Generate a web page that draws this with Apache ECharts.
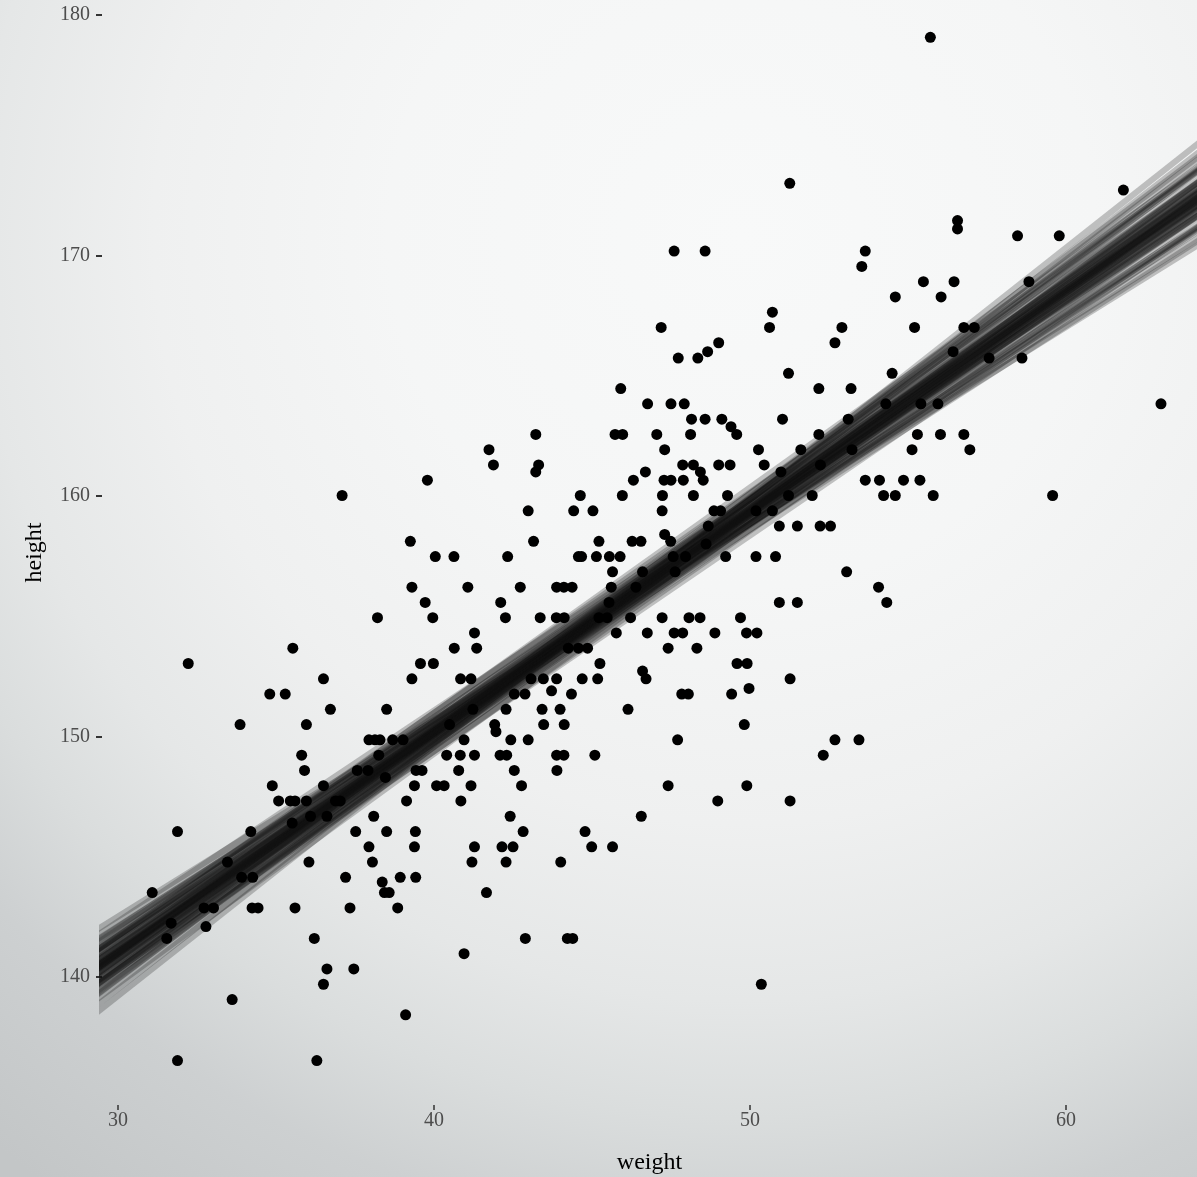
<!DOCTYPE html>
<html>
<head>
<meta charset="utf-8">
<script src="https://cdn.jsdelivr.net/npm/echarts@6/dist/echarts.min.js"></script>
<style>
html,body{margin:0;padding:0;}
#chart{width:1197px;height:1177px;}
</style>
</head>
<body>
<div id="chart"></div>
<script>
// heights (cm) and the weights (kg) of the people seen at each height
const heights = [
	179.07, 173.0, 172.72, 171.45, 171.1, 170.815, 170.18, 169.545, 168.91, 168.275, 167.64,
	167.005, 166.37, 166.0, 165.735, 165.1, 164.465, 163.83, 163.195, 162.88, 162.56,
	161.925, 161.29, 161.0, 160.655, 160.02, 159.385, 158.75, 158.4, 158.115, 158.0, 157.48,
	156.845, 156.21, 155.575, 154.94, 154.305, 153.67, 153.035, 152.72, 152.4, 152.0, 151.9, 151.765,
	151.13, 150.495, 150.2, 149.86, 149.225, 148.59, 148.3, 147.955, 147.32,
	146.685, 146.4, 146.05, 145.415, 144.78, 144.145, 143.95, 143.51,
	142.875, 142.24, 142.1, 141.605, 140.97, 140.335, 139.7, 139.065, 138.43, 136.525
]
const weightsAtHeight = [
	[55.71], [51.26], [61.82], [56.57], [56.57], [58.47, 59.79], [47.60, 48.58, 53.65], [53.54],
	[55.49, 56.46, 58.83], [54.60, 56.05], [50.71],
	[50.62, 47.19, 52.91, 55.21, 56.77, 57.10], [52.69, 49.01], [48.66, 56.43],
	[47.73, 48.35, 57.57, 58.61], [51.22, 54.50], [45.91, 52.18, 53.20],
	[54.30, 46.76, 47.50, 47.92, 63.01, 55.41, 55.95],
	[48.15, 48.58, 49.11, 51.03, 53.11], [49.40],
	[43.22, 45.73, 45.97, 49.58, 47.05, 48.12, 52.18, 55.30, 56.03, 56.77],
	[41.74, 47.30, 50.27, 51.61, 53.23, 55.13, 56.96],
	[41.88, 43.31, 47.87, 48.21, 49.01, 49.37, 50.45, 52.23],
	[43.22, 46.69, 48.43, 50.98],
	[39.79, 46.31, 47.28, 47.50, 47.89, 48.52, 53.65, 54.10, 54.86, 55.38],
	[37.09, 45.96, 44.63, 47.23, 48.21, 49.29, 51.22, 51.97, 54.23, 54.60, 55.80, 59.58],
	[42.98, 44.42, 45.03, 47.22, 48.86, 49.07, 50.19, 50.71],
	[48.68, 50.93, 51.50, 52.22, 52.55], [47.30],
	[39.25, 43.15, 45.22, 46.27, 46.55, 47.49], [48.61],
	[40.04, 40.63, 42.33, 44.57, 44.67, 45.14, 45.55, 45.89, 47.57, 47.96, 49.23, 50.19, 50.81],
	[46.60, 45.65, 47.63, 53.06],
	[39.30, 41.07, 42.73, 43.88, 44.11, 44.37, 45.61, 46.39, 54.07],
	[39.72, 42.11, 45.54, 50.93, 51.50, 54.33],
	[38.21, 39.96, 42.26, 43.36, 43.87, 44.12, 45.22, 45.48, 46.22, 47.22, 48.07, 48.42, 49.70],
	[41.28, 45.77, 46.75, 47.60, 47.87, 48.89, 49.89, 50.22],
	[35.53, 40.64, 41.35, 44.25, 44.57, 44.86, 47.41, 48.32],
	[32.22, 39.57, 39.98, 45.25, 49.59, 49.91], [46.60],
	[36.50, 39.30, 40.84, 41.17, 43.07, 43.46, 43.88, 44.69, 45.18, 46.71, 51.27],
	[49.97], [43.72],
	[34.80, 35.29, 42.54, 42.88, 44.35, 47.84, 48.05, 49.42],
	[36.72, 38.50, 41.23, 42.28, 43.42, 43.99, 46.14],
	[33.86, 35.96, 40.49, 41.92, 43.47, 44.12, 49.82], [41.96],
	[37.94, 38.13, 38.29, 38.69, 39.02, 40.95, 42.43, 42.98, 47.71, 52.69, 53.45],
	[35.81, 38.25, 40.40, 40.83, 41.28, 42.09, 42.30, 43.88, 44.11, 45.09, 52.32],
	[35.90, 37.57, 37.91, 39.43, 39.62, 40.78, 42.54, 43.89], [38.46],
	[34.88, 36.50, 39.38, 40.08, 40.32, 41.17, 42.77, 47.41, 49.90],
	[35.08, 35.45, 35.60, 35.96, 36.88, 37.03, 39.13, 40.85, 48.98, 51.27],
	[38.09, 36.09, 36.61, 42.41, 46.56], [35.51],
	[31.88, 34.20, 37.52, 38.50, 39.41, 42.82, 44.78],
	[37.94, 39.38, 41.28, 42.15, 42.50, 44.99, 45.65],
	[33.46, 36.04, 38.05, 41.20, 42.28, 44.01],
	[33.91, 34.26, 37.20, 38.93, 39.42], [38.36],
	[38.43, 38.58, 31.08, 41.66],
	[32.72, 33.02, 34.24, 34.43, 35.60, 37.34, 38.85], [31.68], [32.78],
	[31.54, 36.21, 42.89, 44.22, 44.39], [40.95], [36.61, 37.46], [36.50, 50.36],
	[33.61], [39.10], [31.88, 36.29]
]

// regression lines from the posterior: height at weight 29 and at weight 65
const fitWeights = [29, 65]
const fitLeft = [
	140.10, 140.08, 140.12, 140.84, 139.36, 140.44, 139.76, 139.34, 140.86, 139.62,
	140.58, 140.82, 139.38, 140.17, 140.03, 141.15, 139.05, 140.22, 139.98, 138.92,
	141.28, 139.81, 140.39, 140.39, 139.81, 140.70, 139.50, 140.90, 139.30, 140.04,
	140.16, 141.11, 139.09, 138.50, 141.70, 140.37, 139.83, 139.83, 140.37, 140.06,
	140.14, 140.81, 139.39, 141.24, 138.96, 139.55, 140.65, 140.02, 140.18, 141.44,
	138.76, 140.41, 139.79, 139.38, 140.82, 140.15, 140.05, 140.68, 139.52, 138.18
]
const fitRight = [
	173.10, 173.80, 172.40, 172.40, 173.80, 173.80, 172.40, 174.50, 171.70, 173.70,
	172.50, 173.10, 173.10, 173.35, 172.85, 172.35, 173.85, 174.30, 171.90, 174.80,
	171.40, 174.25, 171.95, 172.85, 173.35, 172.80, 173.40, 173.90, 172.30, 173.40,
	172.80, 172.85, 173.35, 175.10, 171.10, 173.44, 172.76, 173.55, 172.65, 173.60,
	172.60, 173.45, 172.75, 171.90, 174.30, 174.35, 171.85, 173.20, 173.00, 173.00,
	173.20, 173.05, 173.15, 174.90, 171.30, 173.15, 173.05, 174.40, 171.80, 175.50
]

const weightTicks = [30, 40, 50, 60]
const heightTicks = [140, 150, 160, 170, 180]

let points = []
heights.forEach((h, i) => {
	weightsAtHeight[i].forEach(w => points.push([w, h]))
})

let series = []
fitLeft.forEach((l, i) => {
	series.push({
		type: "line",
		silent: true,
		symbol: "none",
		data: [[fitWeights[0], l], [fitWeights[1], fitRight[i]]],
		lineStyle: { width: 6, color: "#111", opacity: 0.24 },
		z: 1
	})
})
series.push({
	type: "scatter",
	data: points,
	symbolSize: 11,
	itemStyle: { color: "#000", opacity: 1 },
	z: 5
})

const font = "Liberation Serif"
var myChart = echarts.init(document.getElementById("chart"))
myChart.setOption({
	animation: false,
	backgroundColor: new echarts.graphic.RadialGradient(0.62, 0.2, 1.0, [
		{ offset: 0, color: "#f8f9f9" },
		{ offset: 0.3, color: "#f5f6f6" },
		{ offset: 0.5, color: "#eff0f0" },
		{ offset: 0.65, color: "#e5e7e7" },
		{ offset: 0.75, color: "#dadddd" },
		{ offset: 0.85, color: "#cdd0d1" },
		{ offset: 1, color: "#c3c6c7" }
	]),
	grid: { left: 102, right: 0, top: 0, bottom: 72, outerBoundsMode: "none", containLabel: false },
	xAxis: {
		type: "value",
		min: 29.49,
		max: 64.15,
		name: "weight",
		nameLocation: "middle",
		nameGap: 46,
		nameTextStyle: { fontFamily: font, fontSize: 24, color: "#000" },
		axisLine: { show: false },
		splitLine: { show: false },
		axisTick: { show: true, customValues: weightTicks, length: 5, lineStyle: { color: "#333", width: 1.5 } },
		axisLabel: { customValues: weightTicks, fontFamily: font, fontSize: 20, color: "#4d4d4d", margin: 6 }
	},
	yAxis: {
		type: "value",
		min: 134.68,
		max: 180.62,
		name: "height",
		nameLocation: "middle",
		nameRotate: 90,
		nameGap: 55,
		nameTextStyle: { fontFamily: font, fontSize: 24, color: "#000" },
		axisLine: { show: false },
		splitLine: { show: false },
		axisTick: { show: true, customValues: heightTicks, length: 6, lineStyle: { color: "#333", width: 2 } },
		axisLabel: { customValues: heightTicks, fontFamily: font, fontSize: 20, color: "#4d4d4d", margin: 12 }
	},
	series: series
})
</script>
</body>
</html>
